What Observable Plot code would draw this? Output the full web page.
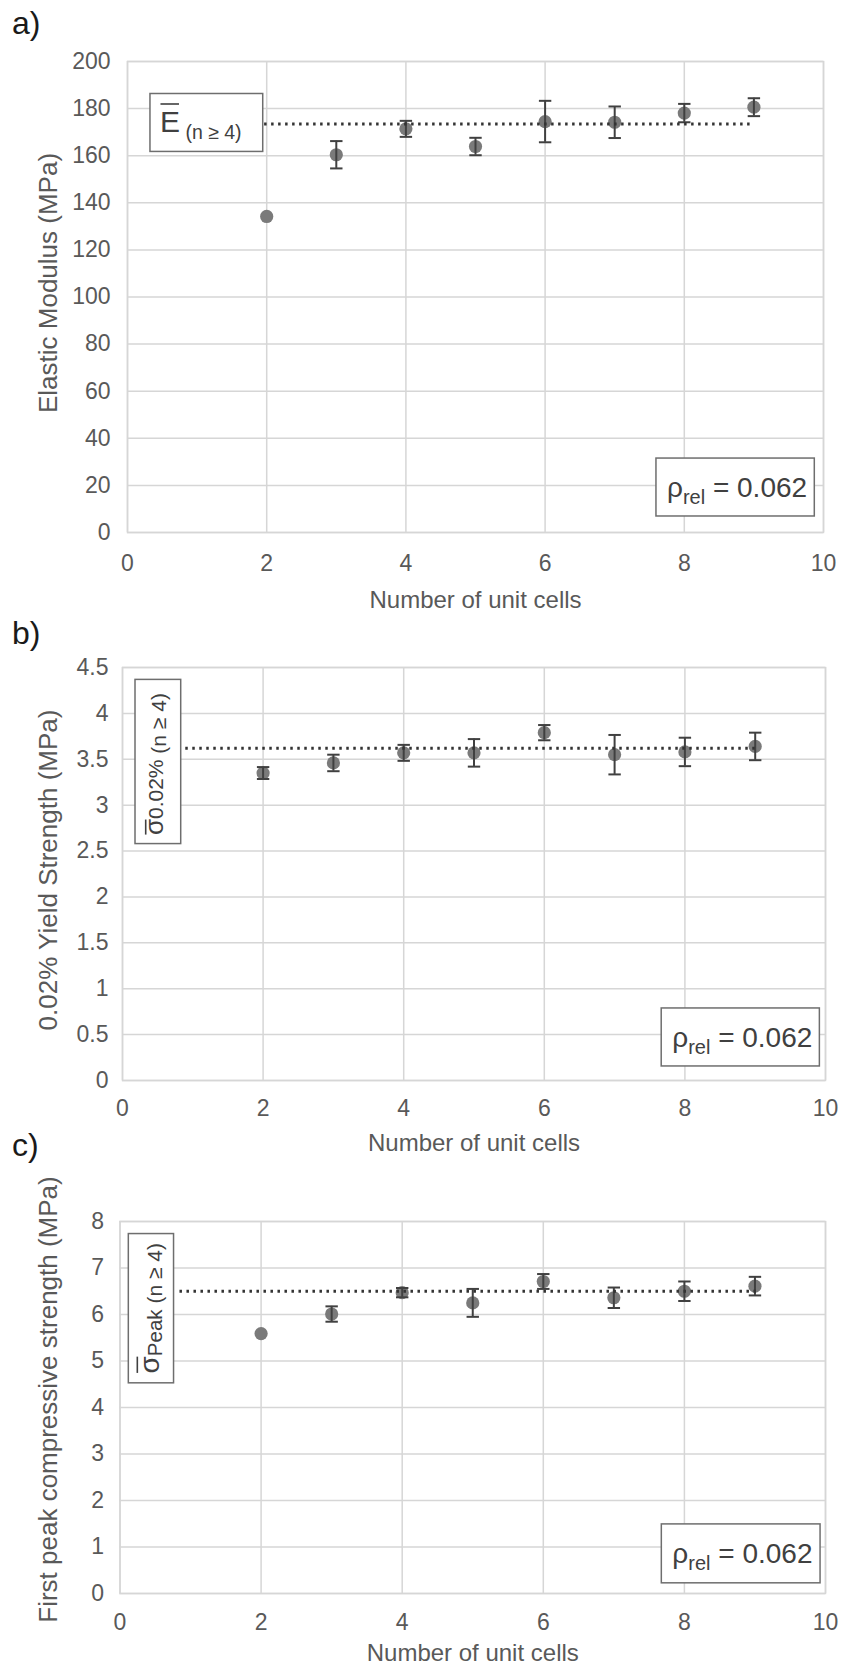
<!DOCTYPE html>
<html><head><meta charset="utf-8">
<script src="https://cdn.jsdelivr.net/npm/d3@7"></script>
<script src="https://cdn.jsdelivr.net/npm/@observablehq/plot@0.6"></script>
<style>
body{margin:0;background:#fff;}
#root{position:relative;width:845px;height:1667px;overflow:hidden;}
#root svg{position:absolute;left:0;overflow:visible;}
</style></head><body><div id="root"></div>
<script>
// ---------- data ----------
const cells = [2, 3, 4, 5, 6, 7, 8, 9];
const modulus    = [134.2, 160.4, 171.4, 163.9, 174.5, 174.2, 178.1, 180.6];
const modulusErr = [0, 5.8, 3.4, 3.7, 8.8, 6.7, 3.9, 3.8];
const yieldStr   = [3.35, 3.46, 3.57, 3.57, 3.79, 3.55, 3.58, 3.64];
const yieldErr   = [0.065, 0.09, 0.087, 0.15, 0.083, 0.215, 0.155, 0.15];
const peakStr    = [5.59, 6.01, 6.47, 6.25, 6.71, 6.36, 6.5, 6.61];
const peakErr    = [0, 0.165, 0.1, 0.3, 0.16, 0.22, 0.21, 0.2];

const xTicks = [0, 2, 4, 6, 8, 10];
const xTickLabels = ["0", "2", "4", "6", "8", "10"];
const xTitle = "Number of unit cells";

const yTicksA = [0, 20, 40, 60, 80, 100, 120, 140, 160, 180, 200];
const yLabelsA = ["0", "20", "40", "60", "80", "100", "120", "140", "160", "180", "200"];
const yTicksB = [0, 0.5, 1, 1.5, 2, 2.5, 3, 3.5, 4, 4.5];
const yLabelsB = ["0", "0.5", "1", "1.5", "2", "2.5", "3", "3.5", "4", "4.5"];
const yTicksC = [0, 1, 2, 3, 4, 5, 6, 7, 8];
const yLabelsC = ["0", "1", "2", "3", "4", "5", "6", "7", "8"];

const yTitles = ["Elastic Modulus (MPa)", "0.02% Yield Strength (MPa)", "First peak compressive strength (MPa)"];
const panelTags = ["a)", "b)", "c)"];

const meanValues = [173.5, 3.62, 6.5];
const meanSpans = [[1.97, 8.95], [0.9, 9.05], [0.85, 9.05]];
const meanLabelMain = ["E", "σ", "σ"];
const meanLabelSub = ["", "0.02%", "Peak"];
const meanLabelCond = " (n ≥ 4)";
const meanBoxes = [
  {x1: 0.33, x2: 1.95, y1: 161.6, y2: 186.2},
  {x1: 0.185, x2: 0.835, y1: 2.576, y2: 4.365},
  {x1: 0.125, x2: 0.766, y1: 4.52, y2: 7.73}
];
const rhoBoxes = [
  {x1: 7.6, x2: 9.875, y1: 6.8, y2: 31.4},
  {x1: 7.67, x2: 9.92, y1: 0.153, y2: 0.785},
  {x1: 7.68, x2: 9.93, y1: 0.219, y2: 1.486}
];
const rhoBase = "ρ", rhoSub = "rel", rhoRest = " = 0.062";

// ---------- style / layout ----------
const FONT = '"Liberation Sans", Arial, Helvetica, sans-serif';
const GRID = "#d6d6d6";
const TEXT = "#595959";
const DARK = "#404040";
const DOT = "#7a7a7a";
const BOX = "#6e6e6e";

const panels = [
  {values: modulus, errors: modulusErr, ticks: yTicksA, labels: yLabelsA, ymax: 200,
   top: 0, height: 640, mt: 61, mb: 108, ml: 127, mr: 22, xPad: 22, yPad: 17, xTitleDy: 68,
   yTitleDx: -79, yTitleDy: -14},
  {values: yieldStr, errors: yieldErr, ticks: yTicksB, labels: yLabelsB, ymax: 4.5,
   top: 600, height: 580, mt: 67, mb: 100, ml: 122, mr: 20, xPad: 19, yPad: 14, xTitleDy: 63,
   yTitleDx: -74, yTitleDy: -4, sigmaSize: 26, subSize: 21, subDy: 0, condSize: 21, condDy: 3,
   baseOff: 28.3, startOff: 8.5, barOff: 17.6},
  {values: peakStr, errors: peakErr, ticks: yTicksC, labels: yLabelsC, ymax: 8,
   top: 1140, height: 527, mt: 81, mb: 74, ml: 119.5, mr: 20, xPad: 20, yPad: 16, xTitleDy: 60,
   yTitleDx: -71.5, yTitleDy: -8, sigmaSize: 28, subSize: 20.5, subDy: 3, condSize: 21, condDy: 0,
   baseOff: 31, startOff: 9.4, barOff: 22}
];
const tagPos = [[12, 34], [12, 644], [12, 1156]];

const capSymbol = {
  draw(ctx, size) {
    const w = Math.sqrt(size / Math.PI);
    ctx.moveTo(-w, 0);
    ctx.lineTo(w, 0);
  }
};

const root = document.getElementById("root");

panels.forEach((cfg, k) => {
  const rows = cells.map((n, i) => ({n, v: cfg.values[i], e: cfg.errors[i]}));
  const bars = rows.filter(d => d.e > 0);
  const yFmt = new Map(cfg.ticks.map((t, i) => [t, cfg.labels[i]]));
  const xFmt = new Map(xTicks.map((t, i) => [t, xTickLabels[i]]));
  const mbx = meanBoxes[k], rb = rhoBoxes[k];

  const plot = Plot.plot({
    width: 845,
    height: cfg.height,
    marginTop: cfg.mt, marginBottom: cfg.mb, marginLeft: cfg.ml, marginRight: cfg.mr,
    style: {fontFamily: FONT, fontSize: "23px", color: TEXT, background: "transparent", overflow: "visible"},
    x: {domain: [0, 10], label: null},
    y: {domain: [0, cfg.ymax], label: null},
    marks: [
      Plot.gridY(cfg.ticks, {stroke: GRID, strokeOpacity: 1, strokeWidth: 1.5}),
      Plot.gridX(xTicks, {stroke: GRID, strokeOpacity: 1, strokeWidth: 1.5}),
      Plot.frame({stroke: GRID, strokeWidth: 1.5}),
      Plot.axisX(xTicks, {tickSize: 0, tickPadding: cfg.xPad, tickFormat: d => xFmt.get(d), fontSize: 23, label: null}),
      Plot.axisY(cfg.ticks, {tickSize: 0, tickPadding: cfg.yPad, tickFormat: d => yFmt.get(d), fontSize: 23, label: null}),
      Plot.text([xTitle], {text: d => d, frameAnchor: "bottom", textAnchor: "middle", lineAnchor: "middle",
        dy: cfg.xTitleDy, fontSize: 24, fill: TEXT}),
      Plot.text([yTitles[k]], {text: d => d, frameAnchor: "left", textAnchor: "middle", lineAnchor: "middle",
        rotate: -90, dx: cfg.yTitleDx, dy: cfg.yTitleDy, fontSize: 26, fill: TEXT}),
      Plot.rect([mbx], {x1: "x1", x2: "x2", y1: "y1", y2: "y2", fill: "white", stroke: BOX, strokeWidth: 1.5}),
      Plot.rect([rb], {x1: "x1", x2: "x2", y1: "y1", y2: "y2", fill: "white", stroke: BOX, strokeWidth: 1.5}),
      Plot.dot(rows, {x: "n", y: "v", r: 6.6, fill: DOT}),
      Plot.ruleX(bars, {x: "n", y1: d => d.v - d.e, y2: d => d.v + d.e, stroke: DARK, strokeWidth: 2}),
      Plot.dot(bars, {x: "n", y: d => d.v + d.e, symbol: capSymbol, r: 6.2, stroke: DARK, strokeWidth: 2}),
      Plot.dot(bars, {x: "n", y: d => d.v - d.e, symbol: capSymbol, r: 6.2, stroke: DARK, strokeWidth: 2}),
      Plot.ruleY([meanValues[k]], {x1: meanSpans[k][0], x2: meanSpans[k][1], stroke: "#333", strokeWidth: 3, strokeDasharray: "2.5,4.5"})
    ]
  });
  plot.style.top = cfg.top + "px";
  root.appendChild(plot);

  const X = v => plot.scale("x").apply(v);
  const Y = v => plot.scale("y").apply(v);
  const g = d3.select(plot).append("g")
    .attr("font-family", FONT).attr("fill", DARK).attr("text-anchor", "start")
    .style("white-space", "pre");

  // panel tag
  g.append("text").attr("x", tagPos[k][0]).attr("y", tagPos[k][1] - cfg.top)
    .attr("font-size", 32).attr("fill", "#1a1a1a").text(panelTags[k]);

  // rho label
  const t = g.append("text").attr("x", X(rb.x1) + 11).attr("y", (Y(rb.y1) + Y(rb.y2)) / 2 + 10);
  t.append("tspan").attr("font-size", 28).text(rhoBase);
  t.append("tspan").attr("font-size", 20).attr("dy", 7).text(rhoSub);
  t.append("tspan").attr("font-size", 28).attr("dy", -7).text(rhoRest);

  // mean label
  if (k === 0) {
    const x0 = X(mbx.x1) + 10, base = Y(mbx.y2) + 39;
    const te = g.append("text").attr("x", x0).attr("y", base);
    const e = te.append("tspan").attr("font-size", 30).text(meanLabelMain[k]);
    te.append("tspan").attr("font-size", 19.5).attr("dy", 7).text(meanLabelCond);
    const w = e.node().getComputedTextLength();
    g.append("line").attr("x1", x0 + 0.5).attr("x2", x0 + w - 1).attr("y1", base - 28.5).attr("y2", base - 28.5)
      .attr("stroke", DARK).attr("stroke-width", 1.6);
  } else {
    const bx = X(mbx.x1) + cfg.baseOff, by = Y(mbx.y1) - cfg.startOff;
    const gr = g.append("g").attr("transform", `translate(${bx},${by}) rotate(-90)`);
    const tt = gr.append("text").attr("x", 0).attr("y", 0);
    const s = tt.append("tspan").attr("font-size", cfg.sigmaSize).text(meanLabelMain[k]);
    tt.append("tspan").attr("font-size", cfg.subSize).attr("dy", cfg.subDy).text(meanLabelSub[k]);
    tt.append("tspan").attr("font-size", cfg.condSize).attr("dy", cfg.condDy).text(meanLabelCond);
    const w = s.node().getComputedTextLength();
    gr.append("line").attr("x1", 0.5).attr("x2", w - 0.5).attr("y1", -cfg.barOff).attr("y2", -cfg.barOff)
      .attr("stroke", DARK).attr("stroke-width", 1.6);
  }
});
</script>
</body></html>
